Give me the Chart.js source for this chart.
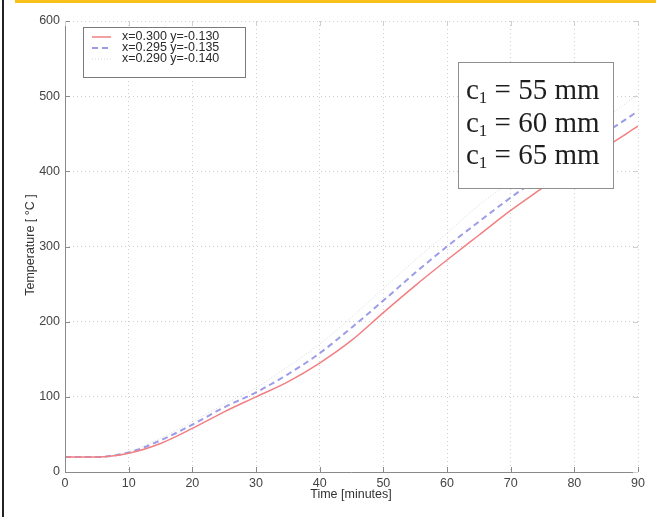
<!DOCTYPE html>
<html>
<head>
<meta charset="utf-8">
<script src="https://cdn.jsdelivr.net/npm/chart.js@4/dist/chart.umd.min.js"></script>
<style>
  html, body { margin: 0; padding: 0; background: #ffffff; }
  #wrap { position: relative; width: 661px; height: 517px; }
  canvas { display: block; }
</style>
</head>
<body>
<div id="wrap"><canvas id="c" width="661" height="517"></canvas></div>
<script>
// Sample times in minutes
const times = [0, 5, 10, 15, 20, 25, 30, 35, 40, 45, 50, 55, 60, 65, 70, 75, 80, 85, 90];

// Temperatures (°C) at the three monitored points
const tempA = [20, 20, 25, 38, 58, 80, 100, 120, 145, 175, 212, 248, 282, 315, 348, 378, 408, 433, 460];
const tempB = [20, 20, 26, 42, 63, 86, 106, 130, 158, 192, 228, 265, 300, 333, 365, 395, 425, 452, 480];
const tempC = [20, 20, 27, 45, 67, 90, 112, 140, 170, 206, 244, 282, 318, 355, 386, 415, 444, 472, 502];

const seriesLabels = ['x=0.300 y=-0.130', 'x=0.295 y=-0.135', 'x=0.290 y=-0.140'];
const coverLabels = ['55', '60', '65'];

const xTicks = [0, 10, 20, 30, 40, 50, 60, 70, 80, 90];
const yTicks = [0, 100, 200, 300, 400, 500, 600];

const toPoints = (vals) => times.map((t, i) => ({ x: t, y: vals[i] }));

const AXIS = '#8a8a8a';
const TXT = '#444444';
const SANS = '"Liberation Sans", Arial, sans-serif';
const SERIF = '"Liberation Serif", "Times New Roman", serif';

// Frame, inner tick marks, axis titles, series key and cover-depth box
const decor = {
  id: 'decor',
  beforeDraw(chart) {
    const ctx = chart.ctx;
    ctx.save();
    ctx.fillStyle = '#ffffff';
    ctx.fillRect(0, 0, chart.width, chart.height);
    // page edge strip and left rule
    ctx.fillStyle = '#f9c21b';
    ctx.fillRect(15, 0, 641, 3);
    ctx.fillStyle = '#222222';
    ctx.fillRect(2, 0, 2, chart.height);
    ctx.restore();
  },
  afterDraw(chart) {
    const ctx = chart.ctx;
    const a = chart.chartArea;
    const xs = chart.scales.x, ys = chart.scales.y;
    ctx.save();
    // axes
    ctx.strokeStyle = AXIS;
    ctx.lineWidth = 1;
    ctx.beginPath();
    ctx.moveTo(a.left + 0.5, a.top);
    ctx.lineTo(a.left + 0.5, a.bottom + 0.5);
    ctx.lineTo(a.right, a.bottom + 0.5);
    ctx.stroke();
    // inner tick marks
    ctx.beginPath();
    xTicks.forEach(v => {
      const px = Math.round(xs.getPixelForValue(v)) + 0.5;
      ctx.moveTo(px, a.bottom); ctx.lineTo(px, a.bottom - 5);
    });
    yTicks.forEach(v => {
      const py = Math.round(ys.getPixelForValue(v)) + 0.5;
      ctx.moveTo(a.left, py); ctx.lineTo(a.left + 5, py);
    });
    ctx.stroke();
    ctx.strokeStyle = '#d0d0d0';
    ctx.beginPath();
    yTicks.forEach(v => {
      const py = Math.round(ys.getPixelForValue(v)) + 0.5;
      ctx.moveTo(a.right, py); ctx.lineTo(a.right - 5, py);
    });
    xTicks.forEach(v => {
      const px = Math.round(xs.getPixelForValue(v)) + 0.5;
      ctx.moveTo(px, a.top); ctx.lineTo(px, a.top + 5);
    });
    ctx.stroke();

    // axis titles
    ctx.fillStyle = '#333333';
    ctx.font = '12.5px ' + SANS;
    ctx.textAlign = 'center';
    ctx.textBaseline = 'middle';
    ctx.fillText('Time [minutes]', 351, 495);
    ctx.translate(31, 245);
    ctx.rotate(-Math.PI / 2);
    ctx.fillText('Temperature [ °C ]', 0, 0);
    ctx.setTransform(1, 0, 0, 1, 0, 0);

    // series key
    const lx = 83, ly = 27, lw = 162, lh = 50;
    ctx.fillStyle = '#ffffff';
    ctx.fillRect(lx, ly, lw, lh);
    ctx.strokeStyle = '#7a7a7a';
    ctx.lineWidth = 1;
    ctx.strokeRect(lx + 0.5, ly + 0.5, lw, lh);
    chart.data.datasets.forEach((ds, i) => {
      const cy = 37 + i * 11;
      ctx.strokeStyle = ds.borderColor;
      ctx.lineWidth = ds.borderWidth;
      ctx.setLineDash(ds.borderDash || []);
      ctx.beginPath();
      ctx.moveTo(92, cy); ctx.lineTo(111, cy);
      ctx.stroke();
      ctx.setLineDash([]);
      ctx.fillStyle = '#2a2a2a';
      ctx.font = '12.5px ' + SANS;
      ctx.textAlign = 'left';
      ctx.textBaseline = 'middle';
      ctx.fillText(ds.label, 122, cy);
    });

    // cover-depth box
    const bx = 458, by = 62, bw = 155, bh = 126;
    ctx.fillStyle = '#ffffff';
    ctx.fillRect(bx, by, bw, bh);
    ctx.strokeStyle = '#8f8f8f';
    ctx.strokeRect(bx + 0.5, by + 0.5, bw, bh);
    ctx.fillStyle = '#1e1e1e';
    ctx.textBaseline = 'alphabetic';
    ctx.textAlign = 'left';
    coverLabels.forEach((c, i) => {
      const base = 99 + i * 32.5;
      let x = 466;
      ctx.font = '29px ' + SERIF;
      ctx.fillText('c', x, base);
      x += ctx.measureText('c').width;
      ctx.font = '17px ' + SERIF;
      ctx.fillText('1', x, base + 4);
      x += ctx.measureText('1').width;
      ctx.font = '29px ' + SERIF;
      ctx.fillText(' = ' + c + ' mm', x, base);
    });
    ctx.restore();
  }
};

new Chart(document.getElementById('c'), {
  type: 'line',
  data: {
    datasets: [
      { label: seriesLabels[0], data: toPoints(tempA), borderColor: '#f27f82', borderWidth: 1.5, pointRadius: 0, cubicInterpolationMode: 'monotone' },
      { label: seriesLabels[1], data: toPoints(tempB), borderColor: '#9c9ce8', borderWidth: 2, borderDash: [6, 4], pointRadius: 0, cubicInterpolationMode: 'monotone' },
      { label: seriesLabels[2], data: toPoints(tempC), borderColor: '#d4ddd4', borderWidth: 1, borderDash: [1, 2], pointRadius: 0, cubicInterpolationMode: 'monotone' }
    ]
  },
  options: {
    responsive: false,
    animation: false,
    devicePixelRatio: 1,
    layout: { padding: { left: 0, right: 23, top: 21, bottom: 0 } },
    plugins: { legend: { display: false }, tooltip: { enabled: false } },
    scales: {
      x: {
        type: 'linear', min: 0, max: 90,
        afterFit(s) { s.height = 45; },
        afterBuildTicks(s) { s.ticks = xTicks.map(v => ({ value: v })); },
        border: { display: false, dash: [1, 3] },
        grid: { color: '#cfcfcf', lineWidth: 1, tickLength: 0, drawTicks: false },
        ticks: { color: TXT, padding: 4, font: { family: SANS, size: 12.5 }, maxRotation: 0 }
      },
      y: {
        type: 'linear', min: 0, max: 600,
        afterFit(s) { s.width = 65; },
        afterBuildTicks(s) { s.ticks = yTicks.map(v => ({ value: v })); },
        border: { display: false, dash: [1, 3] },
        grid: { color: '#cfcfcf', lineWidth: 1, tickLength: 0, drawTicks: false },
        ticks: { color: TXT, padding: 5, font: { family: SANS, size: 12.5 } }
      }
    }
  },
  plugins: [decor]
});
</script>
</body>
</html>
